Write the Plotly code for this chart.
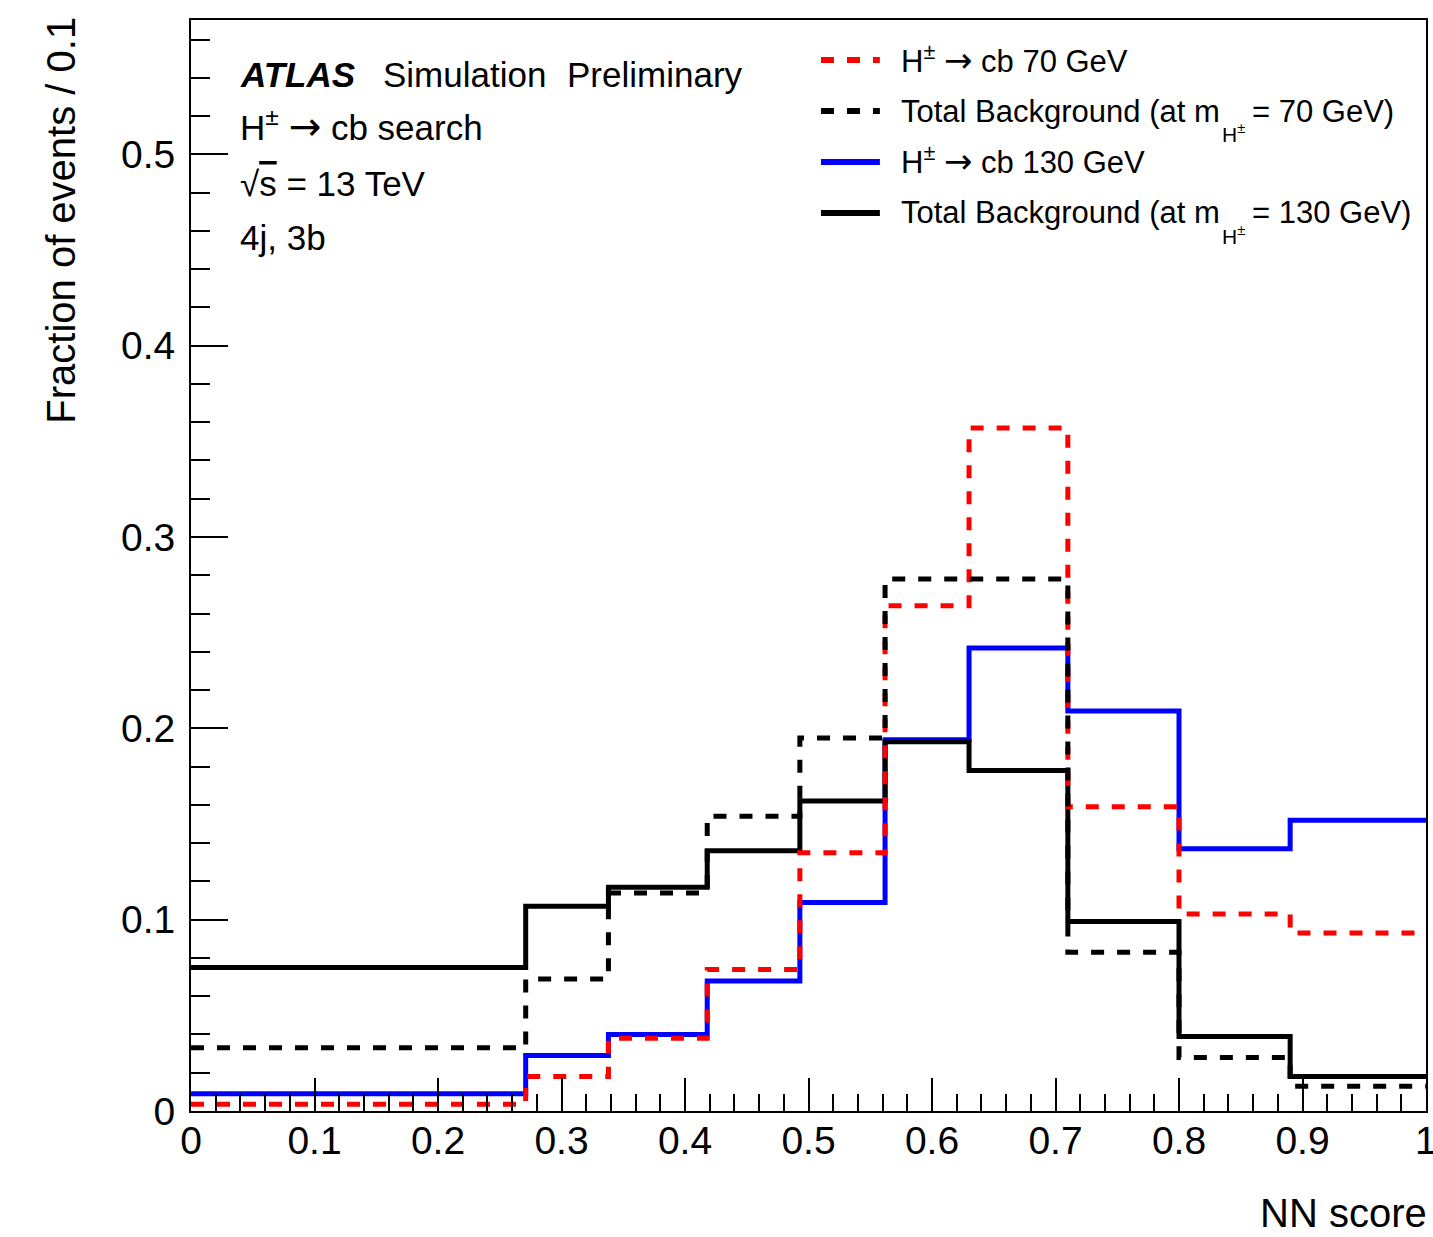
import plotly.graph_objects as go

# ---------------- data ----------------
bin_edges = [0.0, 0.271, 0.338, 0.418, 0.493, 0.562, 0.630, 0.710, 0.800, 0.890, 1.0]
sig70 = [0.0035, 0.018, 0.038, 0.074, 0.135, 0.264, 0.357, 0.159, 0.103, 0.093]
bkg70 = [0.033, 0.069, 0.114, 0.154, 0.195, 0.278, 0.278, 0.083, 0.028, 0.013]
sig130 = [0.009, 0.029, 0.040, 0.068, 0.109, 0.194, 0.242, 0.209, 0.137, 0.152]
bkg130 = [0.075, 0.107, 0.117, 0.136, 0.162, 0.193, 0.178, 0.099, 0.039, 0.018]

x_tickvals = [0, 0.1, 0.2, 0.3, 0.4, 0.5, 0.6, 0.7, 0.8, 0.9, 1.0]
x_ticktext = ["0", "0.1", "0.2", "0.3", "0.4", "0.5", "0.6", "0.7", "0.8", "0.9", "1"]
y_tickvals = [0, 0.1, 0.2, 0.3, 0.4, 0.5]
y_ticktext = ["0", "0.1", "0.2", "0.3", "0.4", "0.5"]

FONT = "Liberation Sans, Arial, Helvetica, sans-serif"

def arrow(size):
    return "<span style='font-family:DejaVu Sans;font-size:%dpx'>→</span>" % size

W, H = 1433, 1237
L, R, T, B = 191, 5, 20, 126
DASH = "13px,13px"

def px(x):
    return (x - L) / (W - L - R)

def py(y):
    return (H - B - y) / (H - B - T)

styles = {
    "sig70": dict(color="#ff0000", width=5, dash=DASH),
    "bkg70": dict(color="#000000", width=5, dash=DASH),
    "sig130": dict(color="#0000ff", width=5),
    "bkg130": dict(color="#000000", width=5),
}

fig = go.Figure()

def hist(vals, style, name):
    fig.add_trace(go.Scatter(
        x=bin_edges, y=list(vals) + [vals[-1]], mode="lines",
        line=dict(shape="hv", **style), name=name, showlegend=False,
        hoverinfo="skip"))

hist(sig130, styles["sig130"], "H± → cb 130 GeV")
hist(bkg130, styles["bkg130"], "Total Background (at m_H± = 130 GeV)")
hist(sig70, styles["sig70"], "H± → cb 70 GeV")
hist(bkg70, styles["bkg70"], "Total Background (at m_H± = 70 GeV)")

fig.update_layout(
    width=W, height=H,
    margin=dict(l=L, r=R, t=T, b=B, pad=0),
    paper_bgcolor="white", plot_bgcolor="white",
    font=dict(family=FONT, color="black"),
    showlegend=False,
)

fig.update_xaxes(
    range=[0, 1], showgrid=False, zeroline=False,
    showline=True, linecolor="black", linewidth=2, mirror=True,
    ticks="inside", ticklen=33, tickwidth=2, tickcolor="black",
    tickvals=x_tickvals, ticktext=x_ticktext,
    tickfont=dict(size=39, family=FONT),
    ticklabelstandoff=-6,
    minor=dict(dtick=0.02, ticks="inside", ticklen=17, tickwidth=2, tickcolor="black", showgrid=False),
)
fig.update_yaxes(
    range=[0, 0.5702], showgrid=False, zeroline=False,
    showline=True, linecolor="black", linewidth=2, mirror=True,
    ticks="inside", ticklen=37, tickwidth=2, tickcolor="black",
    tickvals=y_tickvals, ticktext=y_ticktext,
    tickfont=dict(size=39, family=FONT),
    ticklabelstandoff=6,
    minor=dict(dtick=0.02, ticks="inside", ticklen=19, tickwidth=2, tickcolor="black", showgrid=False),
)

ann = []
base = dict(xref="paper", yref="paper", showarrow=False)
# axis titles
ann.append(dict(text="Fraction of events / 0.1", textangle=-90, x=px(61), y=py(15),
                xanchor="center", yanchor="top", font=dict(size=40, family=FONT), **base))
ann.append(dict(text="NN score", x=px(1431), y=py(1237),
                xanchor="right", yanchor="bottom", font=dict(size=40, family=FONT), **base))
# last x tick label (partly cut at the figure edge, as in the reference)
ann.append(dict(text=x_ticktext[-1], x=1.0, y=py(1140), xanchor="center", yanchor="middle",
                font=dict(size=39, family=FONT), **base))

# ATLAS label block
txt = dict(xanchor="left", yanchor="middle", **base)
f35 = dict(size=35, family=FONT)
ann.append(dict(text="<b><i>ATLAS</i></b>", x=px(238), y=py(74), font=f35, **txt))
ann.append(dict(text="Simulation", x=px(381), y=py(74), font=f35, **txt))
ann.append(dict(text="Preliminary", x=px(566), y=py(74), font=f35, **txt))
ann.append(dict(text="H<sup>±</sup> " + arrow(39) + " cb search", x=px(238), y=py(126), font=f35, **txt))
ann.append(dict(text="√<span style='text-decoration:overline'>s</span> = 13 TeV", x=px(238), y=py(183), font=f35, **txt))
ann.append(dict(text="4j, 3b", x=px(238), y=py(237), font=f35, **txt))

# manual legend
f30 = dict(size=31, family=FONT)
fsub = dict(size=21, family=FONT)
leg_rows = [
    (60, styles["sig70"], ["H<sup>±</sup> " + arrow(34) + " cb 70 GeV"]),
    (111, styles["bkg70"], ["Total Background (at m", "H<sup>±</sup>", "= 70 GeV)"]),
    (162, styles["sig130"], ["H<sup>±</sup> " + arrow(34) + " cb 130 GeV"]),
    (213, styles["bkg130"], ["Total Background (at m", "H<sup>±</sup>", "= 130 GeV)"]),
]
shapes = []
for yy, st, parts in leg_rows:
    shapes.append(dict(type="line", xref="paper", yref="paper",
                       x0=px(822), x1=px(881), y0=py(yy), y1=py(yy),
                       line=dict(color=st["color"], width=6, dash=st.get("dash", "solid"))))
    if len(parts) == 1:
        ann.append(dict(text=parts[0], x=px(900), y=py(yy - 1), font=f30, **txt))
    else:
        ann.append(dict(text=parts[0], x=px(900), y=py(yy), font=f30, **txt))
        ann.append(dict(text=parts[1], x=px(1222), y=py(yy + 22), font=fsub, **txt))
        ann.append(dict(text=parts[2], x=px(1252), y=py(yy), font=f30, **txt))

fig.update_layout(annotations=ann, shapes=shapes)

fig.write_html(
    "out.html",
    config={"displayModeBar": False},
    post_script="document.body.style.margin='0';document.body.style.padding='0';document.body.style.overflow='hidden';",
)
